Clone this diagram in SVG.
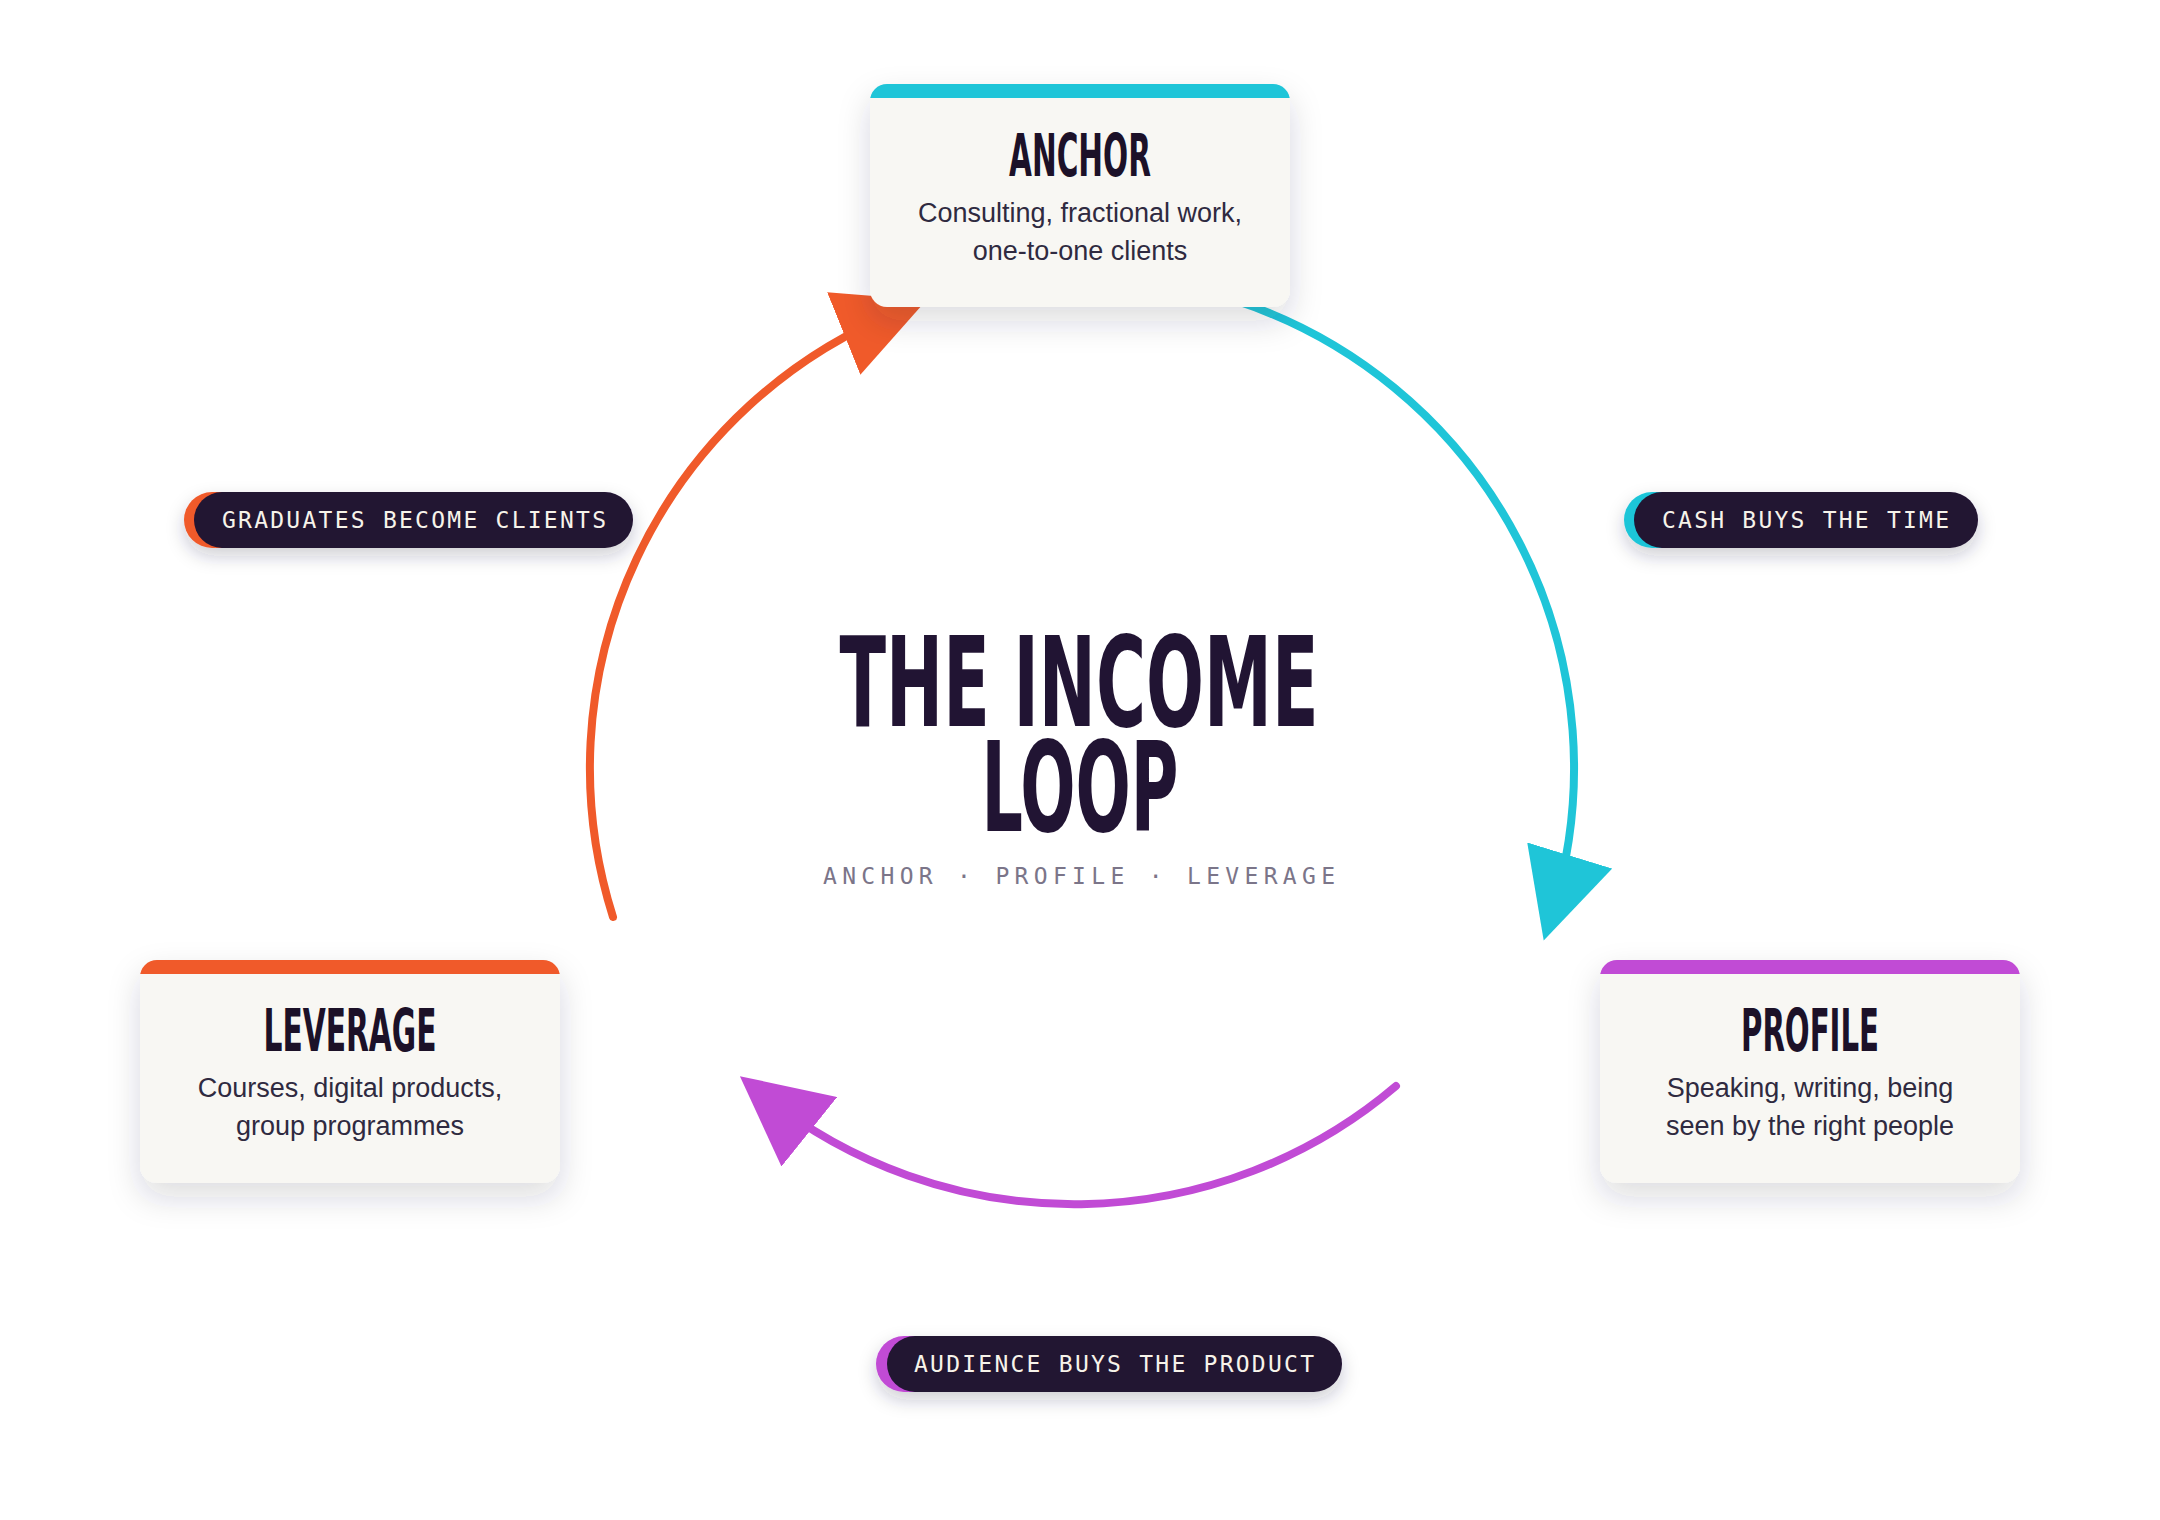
<svg xmlns="http://www.w3.org/2000/svg" width="2160" height="1520" viewBox="0 0 2160 1520">
  <style>
    .card { fill: #F8F7F3; }
    .ctitle { font-family: 'DejaVu Sans Condensed', 'DejaVu Sans', sans-serif; font-stretch: condensed; font-weight: 700; font-size: 58px; fill: #1C1128; text-anchor: middle; }
    .cdesc { font-family: 'Liberation Sans', Arial, sans-serif; font-size: 27px; fill: #2F2A40; text-anchor: middle; }
    .pill { fill: #211333; }
    .ptext { font-family: 'DejaVu Sans Mono', 'Liberation Mono', monospace; font-size: 23px; font-weight: 400; fill: #F7F3EA; }
    .arc { fill: none; stroke-width: 8; stroke-linecap: round; }
    .big { font-family: 'DejaVu Sans Condensed', 'DejaVu Sans', sans-serif; font-stretch: condensed; font-weight: 700; font-size: 124px; fill: #211433; text-anchor: middle; }
    .sub { font-family: 'DejaVu Sans Mono', 'Liberation Mono', monospace; font-size: 23px; fill: #7B7589; }
  </style>
  <defs>
    <filter id="shadow" x="-30%" y="-30%" width="160%" height="180%">
      <feDropShadow dx="0" dy="14" stdDeviation="16" flood-color="#2A2040" flood-opacity="0.16"/>
    </filter>
    <filter id="pshadow" x="-20%" y="-60%" width="140%" height="240%">
      <feDropShadow dx="0" dy="8" stdDeviation="9" flood-color="#2A2040" flood-opacity="0.22"/>
    </filter>
    <marker id="mCyan" markerUnits="userSpaceOnUse" viewBox="0 0 89 89" markerWidth="89" markerHeight="89" refX="59" refY="44.5" orient="auto">
      <path d="M0,0 L89,44.5 L0,89 Z" fill="#1FC5D8"/>
    </marker>
    <marker id="mOrange" markerUnits="userSpaceOnUse" viewBox="0 0 89 89" markerWidth="89" markerHeight="89" refX="59" refY="44.5" orient="auto">
      <path d="M0,0 L89,44.5 L0,89 Z" fill="#F05A2A"/>
    </marker>
    <marker id="mPurple" markerUnits="userSpaceOnUse" viewBox="0 0 89 89" markerWidth="89" markerHeight="89" refX="59" refY="44.5" orient="auto">
      <path d="M0,0 L89,44.5 L0,89 Z" fill="#C14BD5"/>
    </marker>
    <clipPath id="clipAnchor"><rect x="870" y="84" width="420" height="223" rx="17"/></clipPath>
    <clipPath id="clipLeverage"><rect x="140" y="960" width="420" height="223" rx="17"/></clipPath>
    <clipPath id="clipProfile"><rect x="1600" y="960" width="420" height="223" rx="17"/></clipPath>
  </defs>

  <rect x="0" y="0" width="2160" height="1520" fill="#FFFFFF"/>

  <g id="connectors">
    <path class="arc" stroke="#1FC5D8" d="M1234,300 A492,492 0 0 1 1552.5,911.9" marker-end="url(#mCyan)"/>
    <path class="arc" stroke="#C14BD5" d="M1396,1086 A497,497 0 0 1 763.3,1094.9" marker-end="url(#mPurple)"/>
    <path class="arc" stroke="#F05A2A" d="M613,917 A492,492 0 0 1 898.5,311.5" marker-end="url(#mOrange)"/>
  </g>

  <g id="center-title">
    <text class="big"><tspan x="1079" y="726" textLength="479" lengthAdjust="spacingAndGlyphs">THE INCOME</tspan><tspan x="1080" y="831" textLength="197" lengthAdjust="spacingAndGlyphs">LOOP</tspan></text>
    <text class="sub" x="823" y="884" textLength="512" lengthAdjust="spacing">ANCHOR · PROFILE · LEVERAGE</text>
  </g>

  <g id="anchor">
    <rect class="card" x="870" y="84" width="420" height="223" rx="17" filter="url(#shadow)"/>
    <rect x="870" y="84" width="420" height="14" fill="#1FC5D8" clip-path="url(#clipAnchor)"/>
    <text class="ctitle" x="1080" y="176" textLength="142" lengthAdjust="spacingAndGlyphs">ANCHOR</text>
    <text class="cdesc" x="1080" y="222">Consulting, fractional work,</text>
    <text class="cdesc" x="1080" y="260">one-to-one clients</text>
  </g>

  <g id="profile">
    <rect class="card" x="1600" y="960" width="420" height="223" rx="17" filter="url(#shadow)"/>
    <rect x="1600" y="960" width="420" height="14" fill="#C14BD5" clip-path="url(#clipProfile)"/>
    <text class="ctitle" x="1810" y="1051" textLength="138" lengthAdjust="spacingAndGlyphs">PROFILE</text>
    <text class="cdesc" x="1810" y="1097">Speaking, writing, being</text>
    <text class="cdesc" x="1810" y="1135">seen by the right people</text>
  </g>

  <g id="leverage">
    <rect class="card" x="140" y="960" width="420" height="223" rx="17" filter="url(#shadow)"/>
    <rect x="140" y="960" width="420" height="14" fill="#F05A2A" clip-path="url(#clipLeverage)"/>
    <text class="ctitle" x="350" y="1051" textLength="173" lengthAdjust="spacingAndGlyphs">LEVERAGE</text>
    <text class="cdesc" x="350" y="1097">Courses, digital products,</text>
    <text class="cdesc" x="350" y="1135">group programmes</text>
  </g>

  <g id="label-cash">
    <g filter="url(#pshadow)">
      <rect x="1624" y="492" width="344" height="56" rx="28" fill="#1FC5D8"/>
      <rect class="pill" x="1634" y="492" width="344" height="56" rx="28"/>
    </g>
    <text class="ptext" x="1662" y="528" textLength="287" lengthAdjust="spacing">CASH BUYS THE TIME</text>
  </g>

  <g id="label-audience">
    <g filter="url(#pshadow)">
      <rect x="876" y="1336" width="455" height="56" rx="28" fill="#C14BD5"/>
      <rect class="pill" x="887" y="1336" width="455" height="56" rx="28"/>
    </g>
    <text class="ptext" x="914" y="1372" textLength="400" lengthAdjust="spacing">AUDIENCE BUYS THE PRODUCT</text>
  </g>

  <g id="label-graduates">
    <g filter="url(#pshadow)">
      <rect x="184" y="492" width="439" height="56" rx="28" fill="#F05A2A"/>
      <rect class="pill" x="194" y="492" width="439" height="56" rx="28"/>
    </g>
    <text class="ptext" x="222" y="528" textLength="384" lengthAdjust="spacing">GRADUATES BECOME CLIENTS</text>
  </g>
</svg>
